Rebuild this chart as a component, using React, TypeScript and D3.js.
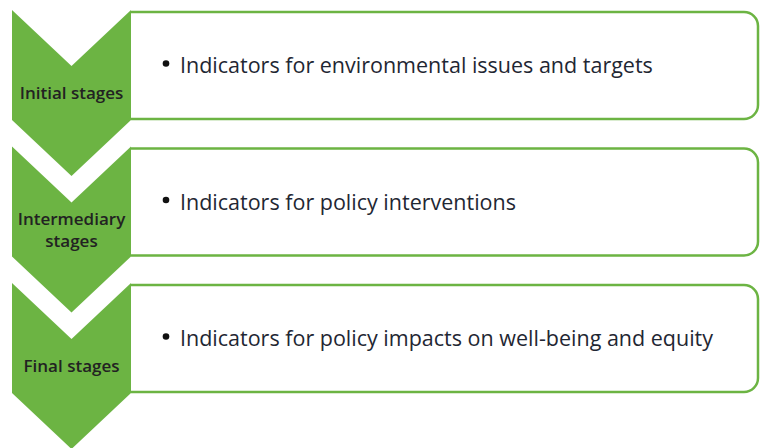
import React from 'react';
import * as d3 from 'd3';

const stages = [['Initial stages'], ['Intermediary', 'stages'], ['Final stages']];
const indicators = [
  'Indicators for environmental issues and targets',
  'Indicators for policy interventions',
  'Indicators for policy impacts on well-being and equity',
];

const GREEN = '#6cb443';
const W = 760;
const H = 448;

export default function App() {
  // row tops
  const y = d3.scaleLinear().domain([0, stages.length - 1]).range([10, 283]);
  const chevLeft = 12;
  const chevRight = 131;
  const mid = (chevLeft + chevRight) / 2;
  const notch = 56;
  const side = 110;
  const boxRight = 758;
  const boxH = 107;
  const r = 14;
  const lineGap = 22;

  const chevron = (t: number) => {
    const p = d3.path();
    p.moveTo(chevLeft, t);
    p.lineTo(mid, t + notch);
    p.lineTo(chevRight, t);
    p.lineTo(chevRight, t + side);
    p.lineTo(mid, t + side + notch);
    p.lineTo(chevLeft, t + side);
    p.closePath();
    return p.toString();
  };

  const box = (t: number) => {
    const p = d3.path();
    const b = t + boxH;
    p.moveTo(chevRight, t);
    p.lineTo(boxRight - r, t);
    p.arcTo(boxRight, t, boxRight, t + r, r);
    p.lineTo(boxRight, b - r);
    p.arcTo(boxRight, b, boxRight - r, b, r);
    p.lineTo(chevRight, b);
    return p.toString();
  };

  return (
    <svg width={W} height={H} style={{ position: 'absolute', left: 0, top: 0 }}>
      <rect width={W} height={H} fill="#fff" />
      {stages.map((lines, i) => {
        const t = y(i);
        const bt = t + 2;
        const base = t + 89 - ((lines.length - 1) * lineGap) / 2;
        return (
          <g key={i}>
            <path d={box(bt)} fill="#fff" stroke={GREEN} strokeWidth={2.5} />
            <path d={chevron(t)} fill={GREEN} />
            <text
              x={mid}
              y={base}
              textAnchor="middle"
              fontFamily="'Open Sans', sans-serif"
              fontWeight={600}
              fontSize={17}
              fill="#222"
            >
              {lines.map((l, j) => (
                <tspan key={j} x={mid} dy={j === 0 ? 0 : lineGap}>
                  {l}
                </tspan>
              ))}
            </text>
            <circle cx={166} cy={t + 53.5} r={3.3} fill="#111" />
            <text
              x={180}
              y={t + 63}
              fontFamily="'Open Sans', sans-serif"
              fontSize={21.5}
              fill="#1f2733"
            >
              {indicators[i]}
            </text>
          </g>
        );
      })}
    </svg>
  );
}
